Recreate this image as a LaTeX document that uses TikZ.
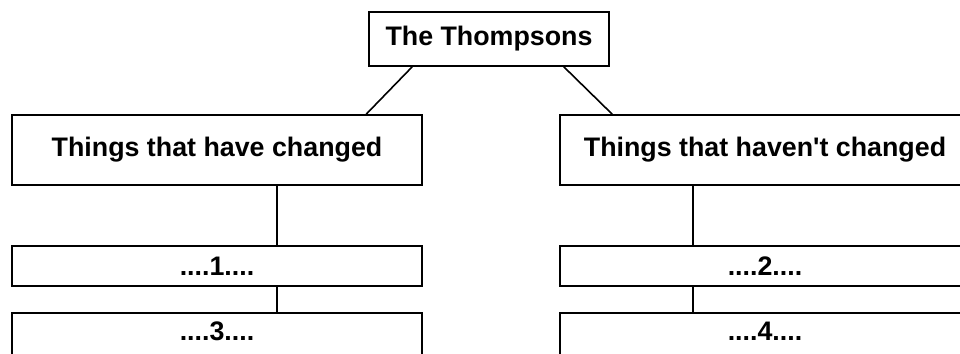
\documentclass[tikz,border=0pt]{standalone}
\usepackage{fontspec}
\setmainfont{Liberation Sans}
\begin{document}
\begin{tikzpicture}[x=1pt,y=-1pt,
  box/.style={draw=black,line width=1.6pt,rectangle,inner sep=0pt,fill=white,
    font=\fontsize{26.8}{30}\selectfont\bfseries,text=black},
  conn/.style={draw=black,line width=1.6pt}]
\useasboundingbox (0,0) rectangle (960,353);
\clip (0,0) rectangle (960,353);
\node[box,minimum width=240pt,minimum height=54pt] (top) at (489,39) {The Thompsons};
\node[box,minimum width=410pt,minimum height=70pt] (L) at (217,150) {Things that have changed};
\node[box,minimum width=410pt,minimum height=70pt] (R) at (765,150) {Things that haven\textquotesingle t changed};
\node[box,minimum width=410pt,minimum height=40pt] (L1) at (217,266) {....1....};
\node[box,minimum width=410pt,minimum height=40pt] (R1) at (765,266) {....2....};
\node[box,minimum width=410pt,minimum height=48pt,text depth=12pt] (L2) at (217,337) {....3....};
\node[box,minimum width=410pt,minimum height=48pt,text depth=12pt] (R2) at (765,337) {....4....};
\draw[conn] ([xshift=44pt]top.south west) -- ([xshift=355pt]L.north west);
\draw[conn] ([xshift=-46pt]top.south east) -- ([xshift=53pt]R.north west);
\draw[conn] ([xshift=60pt]L.south) -- ([xshift=60pt]L1.north);
\draw[conn] ([xshift=60pt]L1.south) -- ([xshift=60pt]L2.north);
\draw[conn] ([xshift=-72pt]R.south) -- ([xshift=-72pt]R1.north);
\draw[conn] ([xshift=-72pt]R1.south) -- ([xshift=-72pt]R2.north);
\end{tikzpicture}
\end{document}
